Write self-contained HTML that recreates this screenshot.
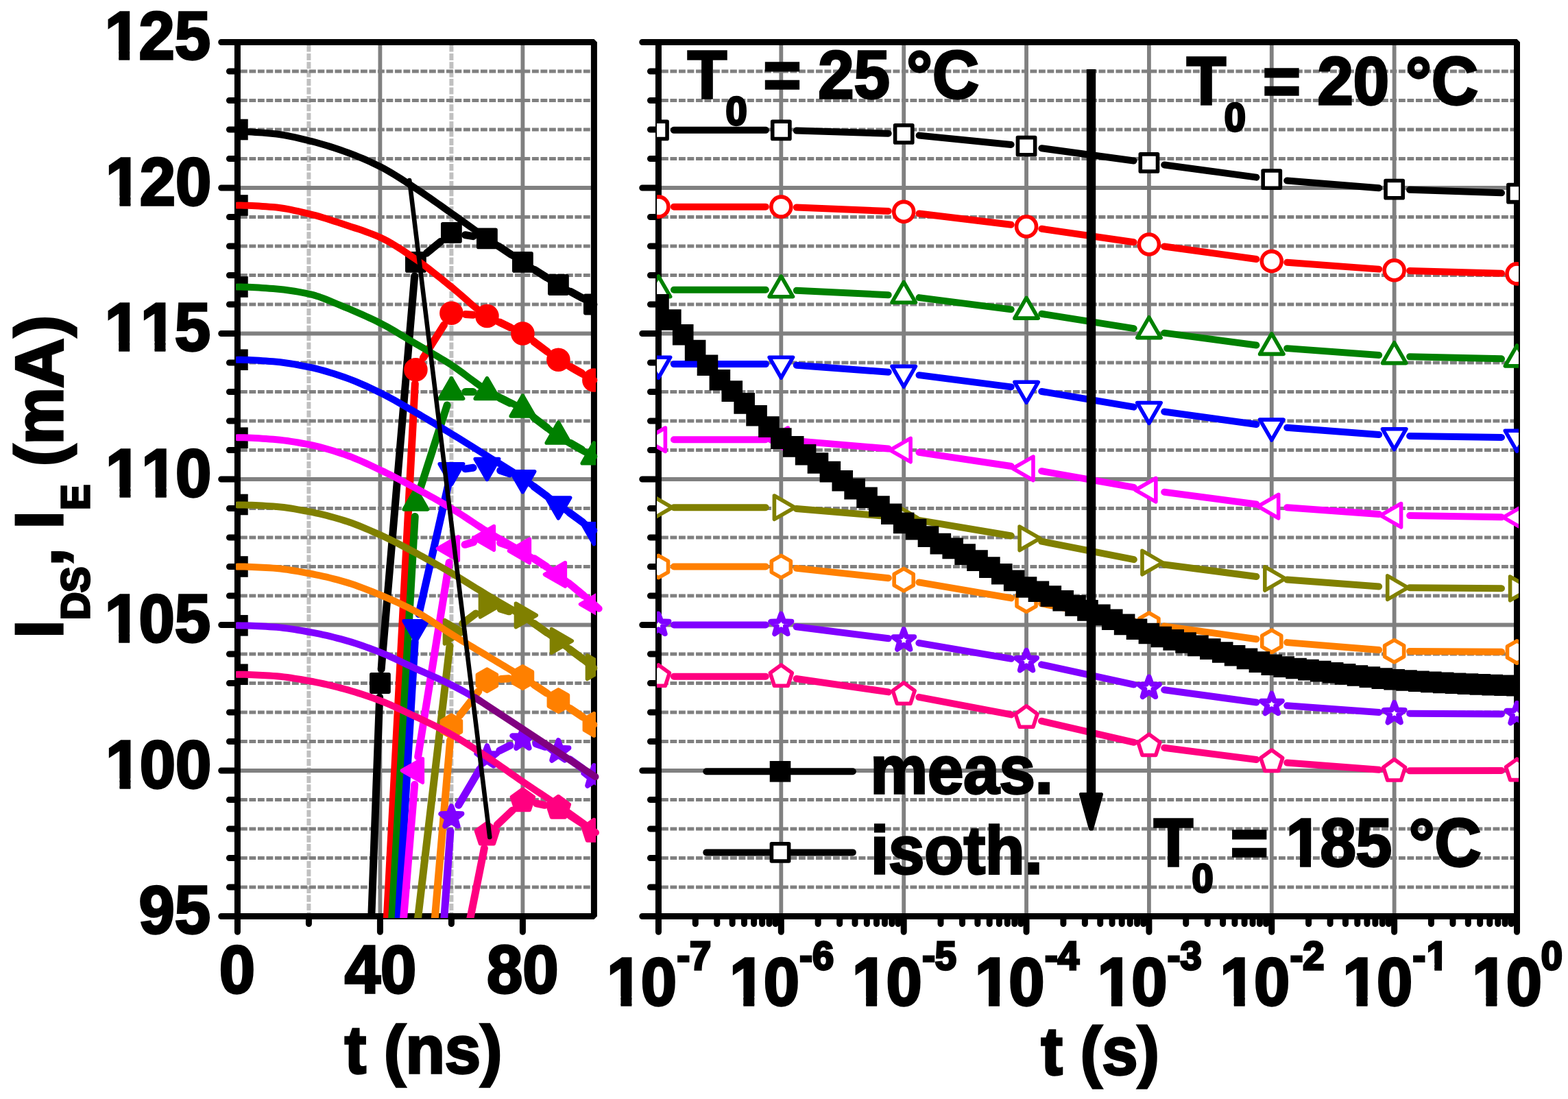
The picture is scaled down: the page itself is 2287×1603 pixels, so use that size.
<!DOCTYPE html>
<html lang="en"><head><meta charset="utf-8"><title>I_DS, I_E vs t</title>
<style>html,body{margin:0;padding:0;background:#fff}body{width:2287px;height:1603px;overflow:hidden}svg{display:block}</style>
</head><body>
<svg xmlns="http://www.w3.org/2000/svg" width="2287" height="1603" viewBox="0 0 2287 1603">
<rect width="2287" height="1603" fill="#fff"/>
<defs>
<clipPath id="cl"><rect x="341.9" y="59" width="527.1" height="1280"/></clipPath>
<clipPath id="cr"><rect x="957.95" y="59" width="1257.05" height="1280"/></clipPath>
<clipPath id="cs"><rect x="343.9" y="59" width="560" height="1280"/></clipPath>
</defs>
<g fill="none">
<path d="M450.4,65.5V1336.5" stroke="#c0c0c0" stroke-width="6" stroke-dasharray="10 2.4"/>
<path d="M658.4,65.5V1336.5" stroke="#c0c0c0" stroke-width="6" stroke-dasharray="10 2.4"/>
<path d="M350.9,1294H861.9M350.9,1251.5H861.9M350.9,1209H861.9M350.9,1166.5H861.9M350.9,1081.5H861.9M350.9,1039H861.9M350.9,996.5H861.9M350.9,954H861.9M350.9,869H861.9M350.9,826.5H861.9M350.9,784H861.9M350.9,741.5H861.9M350.9,656.5H861.9M350.9,614H861.9M350.9,571.5H861.9M350.9,529H861.9M350.9,444H861.9M350.9,401.5H861.9M350.9,359H861.9M350.9,316.5H861.9M350.9,231.5H861.9M350.9,189H861.9M350.9,146.5H861.9M350.9,104H861.9" stroke="#808080" stroke-width="5.2" stroke-dasharray="9.9 2.6"/>
<path d="M346.4,1124H866.4M346.4,911.5H866.4M346.4,699H866.4M346.4,486.5H866.4M346.4,274H866.4M554.4,61.5V1336.5M762.4,61.5V1336.5" stroke="#808080" stroke-width="5.8"/>
</g>
<path d="M346.4,61.5H866.4V1336.5H346.4Z" fill="none" stroke="#000" stroke-width="9" stroke-linejoin="bevel"/>
<path d="M346.4,1336.5h-23.7M346.4,1294h-12M346.4,1251.5h-12M346.4,1209h-12M346.4,1166.5h-12M346.4,1124h-23.7M346.4,1081.5h-12M346.4,1039h-12M346.4,996.5h-12M346.4,954h-12M346.4,911.5h-23.7M346.4,869h-12M346.4,826.5h-12M346.4,784h-12M346.4,741.5h-12M346.4,699h-23.7M346.4,656.5h-12M346.4,614h-12M346.4,571.5h-12M346.4,529h-12M346.4,486.5h-23.7M346.4,444h-12M346.4,401.5h-12M346.4,359h-12M346.4,316.5h-12M346.4,274h-23.7M346.4,231.5h-12M346.4,189h-12M346.4,146.5h-12M346.4,104h-12M346.4,61.5h-23.7M346.4,1336.5v22.7M554.4,1336.5v22.7M762.4,1336.5v22.7M450.4,1336.5v11M658.4,1336.5v11" fill="none" stroke="#000" stroke-width="9" stroke-linecap="round"/>
<g clip-path="url(#cl)">
<rect x="331.1" y="173.7" width="30.6" height="30.6" fill="#000"/>
<rect x="331.1" y="284.2" width="30.6" height="30.6" fill="#000"/>
<rect x="331.1" y="403.2" width="30.6" height="30.6" fill="#000"/>
<rect x="331.1" y="509.45" width="30.6" height="30.6" fill="#000"/>
<rect x="331.1" y="623.35" width="30.6" height="30.6" fill="#000"/>
<rect x="331.1" y="720.68" width="30.6" height="30.6" fill="#000"/>
<rect x="331.1" y="811.2" width="30.6" height="30.6" fill="#000"/>
<rect x="331.1" y="897.05" width="30.6" height="30.6" fill="#000"/>
<rect x="331.1" y="968.45" width="30.6" height="30.6" fill="#000"/>
<path d="M502.4,2399L553.64,1016.99M556.13,976.07L604.67,402.8M622.21,369.32L642.59,352.5M678.63,342.76L690.17,344.64M727.49,359.27L745.31,371.06M779.69,393.39L797.11,404.51M832.38,425.37L848.42,434.15" fill="none" stroke="#000000" stroke-width="11" stroke-linecap="round"/>
<path d="M541.8,983.9L567,983.9L567,1009.1L541.8,1009.1Z" fill="#000000" stroke="#000000" stroke-width="5.6" stroke-linejoin="round"/>
<path d="M593.8,369.77L619,369.77L619,394.97L593.8,394.97Z" fill="#000000" stroke="#000000" stroke-width="5.6" stroke-linejoin="round"/>
<path d="M645.8,326.85L671,326.85L671,352.05L645.8,352.05Z" fill="#000000" stroke="#000000" stroke-width="5.6" stroke-linejoin="round"/>
<path d="M697.8,335.35L723,335.35L723,360.55L697.8,360.55Z" fill="#000000" stroke="#000000" stroke-width="5.6" stroke-linejoin="round"/>
<path d="M749.8,369.77L775,369.77L775,394.97L749.8,394.97Z" fill="#000000" stroke="#000000" stroke-width="5.6" stroke-linejoin="round"/>
<path d="M801.8,402.92L827,402.92L827,428.12L801.8,428.12Z" fill="#000000" stroke="#000000" stroke-width="5.6" stroke-linejoin="round"/>
<path d="M853.8,431.4L879,431.4L879,456.6L853.8,456.6Z" fill="#000000" stroke="#000000" stroke-width="5.6" stroke-linejoin="round"/>
<path d="M554.4,1527.75L605.32,559.67M617.34,521.86L647.46,474.09M678.83,458.42L689.97,459.33M728.81,470.03L743.99,477.47M778.91,498.65L797.89,512.6M832.19,534.93L848.61,544.32" fill="none" stroke="#ff0000" stroke-width="11" stroke-linecap="round"/>
<path d="M591.9,539.2a14.5,14.5 0 1,0 29,0a14.5,14.5 0 1,0 -29,0Z" fill="#ff0000" stroke="#ff0000" stroke-width="5.6" stroke-linejoin="round"/>
<path d="M643.9,456.75a14.5,14.5 0 1,0 29,0a14.5,14.5 0 1,0 -29,0Z" fill="#ff0000" stroke="#ff0000" stroke-width="5.6" stroke-linejoin="round"/>
<path d="M695.9,461a14.5,14.5 0 1,0 29,0a14.5,14.5 0 1,0 -29,0Z" fill="#ff0000" stroke="#ff0000" stroke-width="5.6" stroke-linejoin="round"/>
<path d="M747.9,486.5a14.5,14.5 0 1,0 29,0a14.5,14.5 0 1,0 -29,0Z" fill="#ff0000" stroke="#ff0000" stroke-width="5.6" stroke-linejoin="round"/>
<path d="M799.9,524.75a14.5,14.5 0 1,0 29,0a14.5,14.5 0 1,0 -29,0Z" fill="#ff0000" stroke="#ff0000" stroke-width="5.6" stroke-linejoin="round"/>
<path d="M851.9,554.5a14.5,14.5 0 1,0 29,0a14.5,14.5 0 1,0 -29,0Z" fill="#ff0000" stroke="#ff0000" stroke-width="5.6" stroke-linejoin="round"/>
<path d="M554.4,1642.5L605.23,753.47M612.68,713.49L652.12,591.01M678.9,571.5L689.9,571.5M728.81,580.53L743.99,587.97M778.78,609.32L798.02,623.78M832.19,646.28L848.61,655.67" fill="none" stroke="#008000" stroke-width="11" stroke-linecap="round"/>
<path d="M606.4,713.14L623.6,742.93L589.2,742.93Z" fill="#008000" stroke="#008000" stroke-width="5.6" stroke-linejoin="round"/>
<path d="M658.4,551.64L675.6,581.43L641.2,581.43Z" fill="#008000" stroke="#008000" stroke-width="5.6" stroke-linejoin="round"/>
<path d="M710.4,551.64L727.6,581.43L693.2,581.43Z" fill="#008000" stroke="#008000" stroke-width="5.6" stroke-linejoin="round"/>
<path d="M762.4,577.14L779.6,606.93L745.2,606.93Z" fill="#008000" stroke="#008000" stroke-width="5.6" stroke-linejoin="round"/>
<path d="M814.4,616.24L831.6,646.03L797.2,646.03Z" fill="#008000" stroke="#008000" stroke-width="5.6" stroke-linejoin="round"/>
<path d="M866.4,645.99L883.6,675.78L849.2,675.78Z" fill="#008000" stroke="#008000" stroke-width="5.6" stroke-linejoin="round"/>
<path d="M554.4,1787L605.18,936.21M610.94,895.76L653.86,706.67M678.7,683.85L690.1,682.27M729.74,686.25L743.06,690.93M778.91,709.87L797.89,723.83M830.98,748.03L849.82,761.74" fill="none" stroke="#0000ff" stroke-width="11" stroke-linecap="round"/>
<path d="M606.4,935.61L623.6,905.82L589.2,905.82Z" fill="#0000ff" stroke="#0000ff" stroke-width="5.6" stroke-linejoin="round"/>
<path d="M658.4,706.54L675.6,676.74L641.2,676.74Z" fill="#0000ff" stroke="#0000ff" stroke-width="5.6" stroke-linejoin="round"/>
<path d="M710.4,699.31L727.6,669.52L693.2,669.52Z" fill="#0000ff" stroke="#0000ff" stroke-width="5.6" stroke-linejoin="round"/>
<path d="M762.4,717.59L779.6,687.79L745.2,687.79Z" fill="#0000ff" stroke="#0000ff" stroke-width="5.6" stroke-linejoin="round"/>
<path d="M814.4,755.84L831.6,726.04L797.2,726.04Z" fill="#0000ff" stroke="#0000ff" stroke-width="5.6" stroke-linejoin="round"/>
<path d="M866.4,793.66L883.6,763.87L849.2,763.87Z" fill="#0000ff" stroke="#0000ff" stroke-width="5.6" stroke-linejoin="round"/>
<path d="M554.4,1753L604.71,1144.43M609.65,1103.76L655.15,820.39M678.07,794.36L690.73,790.64M729.69,791.79L743.11,796.61M779.49,814.87L797.31,826.66M830.15,851.1L850.65,868.2" fill="none" stroke="#ff00ff" stroke-width="11" stroke-linecap="round"/>
<path d="M586.54,1124L616.33,1141.2L616.33,1106.8Z" fill="#ff00ff" stroke="#ff00ff" stroke-width="5.6" stroke-linejoin="round"/>
<path d="M638.54,800.15L668.33,817.35L668.33,782.95Z" fill="#ff00ff" stroke="#ff00ff" stroke-width="5.6" stroke-linejoin="round"/>
<path d="M690.54,784.85L720.33,802.05L720.33,767.65Z" fill="#ff00ff" stroke="#ff00ff" stroke-width="5.6" stroke-linejoin="round"/>
<path d="M742.54,803.55L772.33,820.75L772.33,786.35Z" fill="#ff00ff" stroke="#ff00ff" stroke-width="5.6" stroke-linejoin="round"/>
<path d="M794.54,837.97L824.33,855.17L824.33,820.77Z" fill="#ff00ff" stroke="#ff00ff" stroke-width="5.6" stroke-linejoin="round"/>
<path d="M846.54,881.33L876.33,898.53L876.33,864.13Z" fill="#ff00ff" stroke="#ff00ff" stroke-width="5.6" stroke-linejoin="round"/>
<path d="M606.4,1366.25L656.02,942.06M674.78,909.38L694.02,894.92M730.11,888.24L742.69,891.84M779.04,909.44L797.76,922.91M830.91,947.02L849.89,960.98" fill="none" stroke="#808000" stroke-width="11" stroke-linecap="round"/>
<path d="M678.26,921.7L648.47,938.9L648.47,904.5Z" fill="#808000" stroke="#808000" stroke-width="5.6" stroke-linejoin="round"/>
<path d="M730.26,882.6L700.47,899.8L700.47,865.4Z" fill="#808000" stroke="#808000" stroke-width="5.6" stroke-linejoin="round"/>
<path d="M782.26,897.48L752.47,914.68L752.47,880.28Z" fill="#808000" stroke="#808000" stroke-width="5.6" stroke-linejoin="round"/>
<path d="M834.26,934.87L804.47,952.07L804.47,917.67Z" fill="#808000" stroke="#808000" stroke-width="5.6" stroke-linejoin="round"/>
<path d="M886.26,973.13L856.47,990.33L856.47,955.93Z" fill="#808000" stroke="#808000" stroke-width="5.6" stroke-linejoin="round"/>
<path d="M606.4,1663.75L656.64,1079.82M670.95,1043.19L697.85,1008.46M730.83,990.58L741.97,989.67M779.56,999.22L797.24,1010.78M831.43,1033.41L849.37,1045.44" fill="none" stroke="#ff8000" stroke-width="11" stroke-linecap="round"/>
<path d="M658.4,1043.2L672.43,1051.3L672.43,1067.5L658.4,1075.6L644.37,1067.5L644.37,1051.3Z" fill="#ff8000" stroke="#ff8000" stroke-width="5.6" stroke-linejoin="round"/>
<path d="M710.4,976.05L724.43,984.15L724.43,1000.35L710.4,1008.45L696.37,1000.35L696.37,984.15Z" fill="#ff8000" stroke="#ff8000" stroke-width="5.6" stroke-linejoin="round"/>
<path d="M762.4,971.8L776.43,979.9L776.43,996.1L762.4,1004.2L748.37,996.1L748.37,979.9Z" fill="#ff8000" stroke="#ff8000" stroke-width="5.6" stroke-linejoin="round"/>
<path d="M814.4,1005.8L828.43,1013.9L828.43,1030.1L814.4,1038.2L800.37,1030.1L800.37,1013.9Z" fill="#ff8000" stroke="#ff8000" stroke-width="5.6" stroke-linejoin="round"/>
<path d="M866.4,1040.65L880.43,1048.75L880.43,1064.95L866.4,1073.05L852.37,1064.95L852.37,1048.75Z" fill="#ff8000" stroke="#ff8000" stroke-width="5.6" stroke-linejoin="round"/>
<path d="M606.4,1914.5L656.93,1212.45M668.83,1174.35L699.97,1121.67M728.75,1094.88L744.05,1087.25M781.79,1084.76L795.01,1089.29M831.11,1107.83L849.69,1121.05" fill="none" stroke="#8000ff" stroke-width="11" stroke-linecap="round"/>
<path d="M658.4,1176L662.28,1186.66L673.62,1187.06L664.68,1194.04L667.8,1204.94L658.4,1198.6L649,1204.94L652.12,1194.04L643.18,1187.06L654.52,1186.66Z" fill="#8000ff" stroke="#8000ff" stroke-width="7.6" stroke-linejoin="round"/>
<path d="M710.4,1088.03L714.28,1098.69L725.62,1099.08L716.68,1106.06L719.8,1116.97L710.4,1110.62L701,1116.97L704.12,1106.06L695.18,1099.08L706.52,1098.69Z" fill="#8000ff" stroke="#8000ff" stroke-width="7.6" stroke-linejoin="round"/>
<path d="M762.4,1062.1L766.28,1072.76L777.62,1073.16L768.68,1080.14L771.8,1091.04L762.4,1084.7L753,1091.04L756.12,1080.14L747.18,1073.16L758.52,1072.76Z" fill="#8000ff" stroke="#8000ff" stroke-width="7.6" stroke-linejoin="round"/>
<path d="M814.4,1079.95L818.28,1090.61L829.62,1091.01L820.68,1097.99L823.8,1108.89L814.4,1102.55L805,1108.89L808.12,1097.99L799.18,1091.01L810.52,1090.61Z" fill="#8000ff" stroke="#8000ff" stroke-width="7.6" stroke-linejoin="round"/>
<path d="M866.4,1116.92L870.28,1127.59L881.62,1127.98L872.68,1134.96L875.8,1145.87L866.4,1139.52L857,1145.87L860.12,1134.96L851.18,1127.98L862.52,1127.59Z" fill="#8000ff" stroke="#8000ff" stroke-width="7.6" stroke-linejoin="round"/>
<path d="M658.4,1476.75L706.37,1237.18M725.28,1202.97L747.52,1181.88M782.49,1171.88L794.31,1174.3M831.56,1189.62L849.24,1201.18" fill="none" stroke="#ff0080" stroke-width="11" stroke-linecap="round"/>
<path d="M710.4,1200.27L726.38,1211.88L720.27,1230.67L700.53,1230.67L694.42,1211.88Z" fill="#ff0080" stroke="#ff0080" stroke-width="5.6" stroke-linejoin="round"/>
<path d="M762.4,1150.98L778.38,1162.58L772.27,1181.37L752.53,1181.37L746.42,1162.58Z" fill="#ff0080" stroke="#ff0080" stroke-width="5.6" stroke-linejoin="round"/>
<path d="M814.4,1161.6L830.38,1173.21L824.27,1191.99L804.53,1191.99L798.42,1173.21Z" fill="#ff0080" stroke="#ff0080" stroke-width="5.6" stroke-linejoin="round"/>
<path d="M866.4,1195.6L882.38,1207.21L876.27,1225.99L856.53,1225.99L850.42,1207.21Z" fill="#ff0080" stroke="#ff0080" stroke-width="5.6" stroke-linejoin="round"/>
</g>
<g clip-path="url(#cs)" fill="none" stroke-width="10" stroke-linecap="round" stroke-linejoin="round">
<path d="M346.4,191.97L351.6,192.02L356.8,192.14L362,192.33L367.2,192.58L372.4,192.89L377.6,193.24L382.8,193.63L388,194.05L393.2,194.49L398.4,194.95L403.6,195.5L408.8,196.2L414,197.05L419.2,198.02L424.4,199.08L429.6,200.22L434.8,201.42L440,202.65L445.2,203.9L450.4,205.15L455.6,206.43L460.8,207.78L466,209.21L471.2,210.7L476.4,212.26L481.6,213.88L486.8,215.56L492,217.28L497.2,219.06L502.4,220.88L507.6,222.75L512.8,224.69L518,226.71L523.2,228.79L528.4,230.96L533.6,233.2L538.8,235.52L544,237.92L549.2,240.41L554.4,242.97L559.6,245.68L564.8,248.55L570,251.56L575.2,254.7L580.4,257.94L585.6,261.26L590.8,264.63L596,268.04L601.2,271.45L606.4,274.85L611.6,278.28L616.8,281.77L622,285.33L627.2,288.93L632.4,292.58L637.6,296.25L642.8,299.93L648,303.62L653.2,307.31L658.4,310.98L663.6,314.65L668.8,318.36L674,322.09L679.2,325.83L684.4,329.57L689.6,333.31L694.8,337.02L700,340.71L705.2,344.36L710.4,347.95L715.6,351.5L720.8,355.01L726,358.5L731.2,361.96L736.4,365.4L741.6,368.82L746.8,372.22L752,375.61L757.2,379L762.4,382.37L767.6,385.76L772.8,389.17L778,392.57L783.2,395.97L788.4,399.34L793.6,402.69L798.8,405.99L804,409.24L809.2,412.42L814.4,415.52L819.6,418.57L824.8,421.57L830,424.53L835.2,427.45L840.4,430.32L845.6,433.15L850.8,435.94L856,438.67L861.2,441.36L866.4,444" stroke="#000000"/>
<path d="M346.4,299.5L351.6,299.53L356.8,299.64L362,299.8L367.2,300.01L372.4,300.27L377.6,300.57L382.8,300.9L388,301.27L393.2,301.65L398.4,302.05L403.6,302.54L408.8,303.2L414,304L419.2,304.92L424.4,305.94L429.6,307.04L434.8,308.2L440,309.39L445.2,310.61L450.4,311.83L455.6,313.09L460.8,314.46L466,315.92L471.2,317.46L476.4,319.06L481.6,320.71L486.8,322.4L492,324.11L497.2,325.83L502.4,327.55L507.6,329.25L512.8,330.93L518,332.62L523.2,334.33L528.4,336.09L533.6,337.91L538.8,339.82L544,341.83L549.2,343.97L554.4,346.25L559.6,348.73L564.8,351.44L570,354.36L575.2,357.44L580.4,360.68L585.6,364.04L590.8,367.49L596,371L601.2,374.56L606.4,378.13L611.6,381.77L616.8,385.56L622,389.47L627.2,393.49L632.4,397.59L637.6,401.74L642.8,405.94L648,410.14L653.2,414.34L658.4,418.5L663.6,422.76L668.8,427.2L674,431.76L679.2,436.36L684.4,440.94L689.6,445.43L694.8,449.74L700,453.83L705.2,457.6L710.4,461L715.6,464.02L720.8,466.75L726,469.27L731.2,471.63L736.4,473.91L741.6,476.18L746.8,478.5L752,480.95L757.2,483.59L762.4,486.5L767.6,489.75L772.8,493.32L778,497.15L783.2,501.16L788.4,505.27L793.6,509.4L798.8,513.5L804,517.47L809.2,521.24L814.4,524.75L819.6,528.06L824.8,531.31L830,534.49L835.2,537.59L840.4,540.62L845.6,543.57L850.8,546.43L856,549.21L861.2,551.9L866.4,554.5" stroke="#ff0000"/>
<path d="M346.4,418.5L351.6,418.54L356.8,418.64L362,418.81L367.2,419.03L372.4,419.3L377.6,419.6L382.8,419.94L388,420.3L393.2,420.67L398.4,421.05L403.6,421.48L408.8,421.99L414,422.58L419.2,423.24L424.4,423.99L429.6,424.8L434.8,425.68L440,426.63L445.2,427.64L450.4,428.7L455.6,429.93L460.8,431.41L466,433.11L471.2,434.99L476.4,437L481.6,439.11L486.8,441.29L492,443.49L497.2,445.68L502.4,447.83L507.6,449.95L512.8,452.11L518,454.31L523.2,456.55L528.4,458.85L533.6,461.2L538.8,463.6L544,466.07L549.2,468.6L554.4,471.2L559.6,473.9L564.8,476.73L570,479.66L575.2,482.68L580.4,485.76L585.6,488.88L590.8,492.02L596,495.16L601.2,498.29L606.4,501.37L611.6,504.42L616.8,507.44L622,510.45L627.2,513.46L632.4,516.49L637.6,519.56L642.8,522.67L648,525.83L653.2,529.07L658.4,532.4L663.6,535.88L668.8,539.55L674,543.35L679.2,547.24L684.4,551.15L689.6,555.05L694.8,558.87L700,562.56L705.2,566.08L710.4,569.38L715.6,572.42L720.8,575.26L726,577.95L731.2,580.54L736.4,583.09L741.6,585.65L746.8,588.27L752,590.99L757.2,593.89L762.4,597L767.6,600.41L772.8,604.13L778,608.08L783.2,612.18L788.4,616.37L793.6,620.58L798.8,624.73L804,628.74L809.2,632.56L814.4,636.1L819.6,639.44L824.8,642.72L830,645.91L835.2,649.03L840.4,652.06L845.6,655.01L850.8,657.87L856,660.63L861.2,663.29L866.4,665.85" stroke="#008000"/>
<path d="M346.4,524.75L351.6,524.79L356.8,524.89L362,525.06L367.2,525.28L372.4,525.54L377.6,525.84L382.8,526.18L388,526.54L393.2,526.91L398.4,527.3L403.6,527.75L408.8,528.3L414,528.95L419.2,529.7L424.4,530.51L429.6,531.4L434.8,532.34L440,533.32L445.2,534.34L450.4,535.38L455.6,536.48L460.8,537.69L466,539L471.2,540.4L476.4,541.88L481.6,543.44L486.8,545.06L492,546.74L497.2,548.48L502.4,550.25L507.6,552.1L512.8,554.08L518,556.15L523.2,558.33L528.4,560.59L533.6,562.92L538.8,565.32L544,567.77L549.2,570.25L554.4,572.77L559.6,575.37L564.8,578.06L570,580.85L575.2,583.72L580.4,586.65L585.6,589.62L590.8,592.63L596,595.65L601.2,598.67L606.4,601.67L611.6,604.68L616.8,607.72L622,610.78L627.2,613.87L632.4,616.97L637.6,620.09L642.8,623.23L648,626.38L653.2,629.54L658.4,632.7L663.6,635.88L668.8,639.07L674,642.28L679.2,645.51L684.4,648.74L689.6,651.99L694.8,655.24L700,658.49L705.2,661.75L710.4,665L715.6,668.23L720.8,671.44L726,674.63L731.2,677.81L736.4,681.02L741.6,684.25L746.8,687.52L752,690.85L757.2,694.24L762.4,697.73L767.6,701.31L772.8,705L778,708.78L783.2,712.62L788.4,716.5L793.6,720.42L798.8,724.34L804,728.26L809.2,732.14L814.4,735.98L819.6,739.78L824.8,743.57L830,747.37L835.2,751.16L840.4,754.94L845.6,758.72L850.8,762.5L856,766.27L861.2,770.04L866.4,773.8" stroke="#0000ff"/>
<path d="M346.4,638.22L351.6,638.26L356.8,638.37L362,638.53L367.2,638.76L372.4,639.02L377.6,639.33L382.8,639.66L388,640.02L393.2,640.39L398.4,640.77L403.6,641.21L408.8,641.74L414,642.36L419.2,643.06L424.4,643.83L429.6,644.66L434.8,645.54L440,646.47L445.2,647.43L450.4,648.43L455.6,649.48L460.8,650.64L466,651.91L471.2,653.26L476.4,654.7L481.6,656.21L486.8,657.8L492,659.44L497.2,661.13L502.4,662.88L507.6,664.71L512.8,666.69L518,668.79L523.2,670.99L528.4,673.28L533.6,675.64L538.8,678.05L544,680.49L549.2,682.95L554.4,685.4L559.6,687.88L564.8,690.42L570,693.02L575.2,695.66L580.4,698.35L585.6,701.07L590.8,703.82L596,706.59L601.2,709.38L606.4,712.18L611.6,714.98L616.8,717.81L622,720.65L627.2,723.52L632.4,726.42L637.6,729.36L642.8,732.33L648,735.34L653.2,738.4L658.4,741.5L663.6,744.69L668.8,747.98L674,751.35L679.2,754.78L684.4,758.23L689.6,761.69L694.8,765.12L700,768.52L705.2,771.84L710.4,775.08L715.6,778.21L720.8,781.26L726,784.25L731.2,787.2L736.4,790.14L741.6,793.08L746.8,796.03L752,799.04L757.2,802.1L762.4,805.25L767.6,808.45L772.8,811.68L778,814.92L783.2,818.21L788.4,821.55L793.6,824.94L798.8,828.39L804,831.92L809.2,835.54L814.4,839.25L819.6,843.06L824.8,846.96L830,850.96L835.2,855.05L840.4,859.22L845.6,863.48L850.8,867.83L856,872.25L861.2,876.75L866.4,881.33L873.68,887.73" stroke="#ff00ff"/>
<path d="M346.4,736.4L351.6,736.43L356.8,736.51L362,736.65L367.2,736.83L372.4,737.05L377.6,737.3L382.8,737.58L388,737.88L393.2,738.2L398.4,738.53L403.6,738.92L408.8,739.44L414,740.06L419.2,740.77L424.4,741.56L429.6,742.41L434.8,743.31L440,744.25L445.2,745.21L450.4,746.17L455.6,747.18L460.8,748.27L466,749.43L471.2,750.66L476.4,751.96L481.6,753.32L486.8,754.74L492,756.22L497.2,757.76L502.4,759.35L507.6,761.03L512.8,762.84L518,764.76L523.2,766.77L528.4,768.87L533.6,771.04L538.8,773.27L544,775.55L549.2,777.85L554.4,780.17L559.6,782.55L564.8,785L570,787.54L575.2,790.14L580.4,792.79L585.6,795.49L590.8,798.22L596,800.98L601.2,803.75L606.4,806.53L611.6,809.32L616.8,812.15L622,815.02L627.2,817.91L632.4,820.84L637.6,823.79L642.8,826.77L648,829.78L653.2,832.8L658.4,835.85L663.6,838.93L668.8,842.07L674,845.24L679.2,848.45L684.4,851.68L689.6,854.91L694.8,858.14L700,861.36L705.2,864.56L710.4,867.72L715.6,870.84L720.8,873.91L726,876.95L731.2,879.97L736.4,883L741.6,886.04L746.8,889.12L752,892.26L757.2,895.46L762.4,898.75L767.6,902.13L772.8,905.57L778,909.08L783.2,912.65L788.4,916.27L793.6,919.93L798.8,923.63L804,927.35L809.2,931.11L814.4,934.87L819.6,938.67L824.8,942.5L830,946.36L835.2,950.27L840.4,954.2L845.6,958.17L850.8,962.18L856,966.22L861.2,970.29L866.4,974.4" stroke="#808000"/>
<path d="M346.4,826.5L351.6,826.53L356.8,826.61L362,826.75L367.2,826.93L372.4,827.15L377.6,827.4L382.8,827.68L388,827.98L393.2,828.3L398.4,828.62L403.6,829.02L408.8,829.54L414,830.17L419.2,830.89L424.4,831.69L429.6,832.54L434.8,833.44L440,834.38L445.2,835.33L450.4,836.28L455.6,837.25L460.8,838.29L466,839.38L471.2,840.53L476.4,841.74L481.6,843.01L486.8,844.33L492,845.7L497.2,847.13L502.4,848.6L507.6,850.16L512.8,851.82L518,853.59L523.2,855.44L528.4,857.36L533.6,859.35L538.8,861.4L544,863.48L549.2,865.59L554.4,867.72L559.6,869.88L564.8,872.08L570,874.34L575.2,876.64L580.4,879.01L585.6,881.44L590.8,883.95L596,886.53L601.2,889.2L606.4,891.95L611.6,894.86L616.8,897.95L622,901.19L627.2,904.55L632.4,907.99L637.6,911.47L642.8,914.96L648,918.42L653.2,921.81L658.4,925.1L663.6,928.31L668.8,931.5L674,934.66L679.2,937.8L684.4,940.93L689.6,944.05L694.8,947.17L700,950.29L705.2,953.41L710.4,956.55L715.6,959.68L720.8,962.8L726,965.91L731.2,969.01L736.4,972.12L741.6,975.24L746.8,978.38L752,981.55L757.2,984.76L762.4,988L767.6,991.29L772.8,994.62L778,997.98L783.2,1001.37L788.4,1004.78L793.6,1008.21L798.8,1011.65L804,1015.1L809.2,1018.55L814.4,1022L819.6,1025.45L824.8,1028.9L830,1032.36L835.2,1035.84L840.4,1039.32L845.6,1042.81L850.8,1046.31L856,1049.81L861.2,1053.33L866.4,1056.85" stroke="#ff8000"/>
<path d="M346.4,912.35L351.6,912.38L356.8,912.47L362,912.6L367.2,912.78L372.4,913L377.6,913.25L382.8,913.53L388,913.83L393.2,914.15L398.4,914.47L403.6,914.86L408.8,915.36L414,915.95L419.2,916.63L424.4,917.37L429.6,918.18L434.8,919.02L440,919.9L445.2,920.8L450.4,921.7L455.6,922.63L460.8,923.63L466,924.69L471.2,925.81L476.4,926.99L481.6,928.22L486.8,929.5L492,930.82L497.2,932.19L502.4,933.6L507.6,935.07L512.8,936.63L518,938.27L523.2,939.98L528.4,941.76L533.6,943.6L538.8,945.5L544,947.44L549.2,949.43L554.4,951.45L559.6,953.55L564.8,955.77L570,958.09L575.2,960.48L580.4,962.92L585.6,965.4L590.8,967.9L596,970.38L601.2,972.84L606.4,975.25L611.6,977.61L616.8,979.93L622,982.23L627.2,984.53L632.4,986.84L637.6,989.17L642.8,991.55L648,993.97L653.2,996.47L658.4,999.05L663.6,1001.72L668.8,1004.46L674,1007.26L679.2,1010.13L684.4,1013.06L689.6,1016.04L694.8,1019.07L700,1022.14" stroke="#8000ff"/>
<path d="M346.4,983.75L351.6,983.78L356.8,983.87L362,984L367.2,984.18L372.4,984.4L377.6,984.65L382.8,984.93L388,985.23L393.2,985.55L398.4,985.88L403.6,986.26L408.8,986.76L414,987.35L419.2,988.03L424.4,988.77L429.6,989.58L434.8,990.42L440,991.3L445.2,992.2L450.4,993.1L455.6,994.04L460.8,995.04L466,996.11L471.2,997.24L476.4,998.42L481.6,999.66L486.8,1000.94L492,1002.26L497.2,1003.61L502.4,1005L507.6,1006.43L512.8,1007.93L518,1009.49L523.2,1011.11L528.4,1012.79L533.6,1014.53L538.8,1016.32L544,1018.16L549.2,1020.06L554.4,1022L559.6,1024.03L564.8,1026.16L570,1028.39L575.2,1030.7L580.4,1033.08L585.6,1035.5L590.8,1037.95L596,1040.43L601.2,1042.91L606.4,1045.38L611.6,1047.83L616.8,1050.29L622,1052.77L627.2,1055.26L632.4,1057.79L637.6,1060.37L642.8,1063L648,1065.69L653.2,1068.45L658.4,1071.3L663.6,1074.25L668.8,1077.31L674,1080.46L679.2,1083.69L684.4,1086.99L689.6,1090.34L694.8,1093.73L700,1097.15L705.2,1100.59L710.4,1104.03L715.6,1107.5L720.8,1111.04L726,1114.64L731.2,1118.28L736.4,1121.95L741.6,1125.62L746.8,1129.3L752,1132.95L757.2,1136.57L762.4,1140.15L767.6,1143.67L772.8,1147.16L778,1150.62L783.2,1154.06L788.4,1157.5L793.6,1160.94L798.8,1164.4L804,1167.89L809.2,1171.42L814.4,1175L819.6,1178.62L824.8,1182.27L830,1185.95L835.2,1189.65L840.4,1193.38L845.6,1197.13L850.8,1200.91L856,1204.71L861.2,1208.54L866.4,1212.4L869,1214.33" stroke="#ff0080"/>
<path d="M692.5,1017.2L868.5,1133" stroke="#800080"/>
</g>
<path d="M597.2,263L714.3,1221" fill="none" stroke="#000" stroke-width="6.6" stroke-linecap="round"/>
<g fill="none">
<path d="M964.95,1294H2208M964.95,1251.5H2208M964.95,1209H2208M964.95,1166.5H2208M964.95,1081.5H2208M964.95,1039H2208M964.95,996.5H2208M964.95,954H2208M964.95,869H2208M964.95,826.5H2208M964.95,784H2208M964.95,741.5H2208M964.95,656.5H2208M964.95,614H2208M964.95,571.5H2208M964.95,529H2208M964.95,444H2208M964.95,401.5H2208M964.95,359H2208M964.95,316.5H2208M964.95,231.5H2208M964.95,189H2208M964.95,146.5H2208M964.95,104H2208" stroke="#808080" stroke-width="5.2" stroke-dasharray="9.9 2.6"/>
<path d="M960.45,1124H2212.5M960.45,911.5H2212.5M960.45,699H2212.5M960.45,486.5H2212.5M960.45,274H2212.5M1139.31,61.5V1336.5M1318.18,61.5V1336.5M1497.04,61.5V1336.5M1675.91,61.5V1336.5M1854.77,61.5V1336.5M2033.64,61.5V1336.5" stroke="#808080" stroke-width="5.8"/>
</g>
<path d="M960.45,61.5H2212.5V1336.5H960.45Z" fill="none" stroke="#000" stroke-width="9" stroke-linejoin="bevel"/>
<path d="M960.45,1336.5h-23.7M960.45,1294h-12M960.45,1251.5h-12M960.45,1209h-12M960.45,1166.5h-12M960.45,1124h-23.7M960.45,1081.5h-12M960.45,1039h-12M960.45,996.5h-12M960.45,954h-12M960.45,911.5h-23.7M960.45,869h-12M960.45,826.5h-12M960.45,784h-12M960.45,741.5h-12M960.45,699h-23.7M960.45,656.5h-12M960.45,614h-12M960.45,571.5h-12M960.45,529h-12M960.45,486.5h-23.7M960.45,444h-12M960.45,401.5h-12M960.45,359h-12M960.45,316.5h-12M960.45,274h-23.7M960.45,231.5h-12M960.45,189h-12M960.45,146.5h-12M960.45,104h-12M960.45,61.5h-23.7M960.45,1336.5v22.7M1139.31,1336.5v22.7M1318.18,1336.5v22.7M1497.04,1336.5v22.7M1675.91,1336.5v22.7M1854.77,1336.5v22.7M2033.64,1336.5v22.7M2212.5,1336.5v22.7M1014.29,1336.5v11M1045.79,1336.5v11M1068.14,1336.5v11M1085.47,1336.5v11M1099.63,1336.5v11M1111.61,1336.5v11M1121.98,1336.5v11M1131.13,1336.5v11M1193.16,1336.5v11M1224.65,1336.5v11M1247,1336.5v11M1264.34,1336.5v11M1278.5,1336.5v11M1290.47,1336.5v11M1300.84,1336.5v11M1309.99,1336.5v11M1372.02,1336.5v11M1403.52,1336.5v11M1425.87,1336.5v11M1443.2,1336.5v11M1457.36,1336.5v11M1469.34,1336.5v11M1479.71,1336.5v11M1488.86,1336.5v11M1550.89,1336.5v11M1582.38,1336.5v11M1604.73,1336.5v11M1622.06,1336.5v11M1636.23,1336.5v11M1648.2,1336.5v11M1658.57,1336.5v11M1667.72,1336.5v11M1729.75,1336.5v11M1761.25,1336.5v11M1783.59,1336.5v11M1800.93,1336.5v11M1815.09,1336.5v11M1827.07,1336.5v11M1837.44,1336.5v11M1846.59,1336.5v11M1908.61,1336.5v11M1940.11,1336.5v11M1962.46,1336.5v11M1979.79,1336.5v11M1993.95,1336.5v11M2005.93,1336.5v11M2016.3,1336.5v11M2025.45,1336.5v11M2087.48,1336.5v11M2118.98,1336.5v11M2141.32,1336.5v11M2158.66,1336.5v11M2172.82,1336.5v11M2184.79,1336.5v11M2195.17,1336.5v11M2204.32,1336.5v11" fill="none" stroke="#000" stroke-width="9" stroke-linecap="round"/>
<g clip-path="url(#cr)">
<path d="M982.95,189.85L1116.81,189.85M1161.8,190.54L1295.69,194.68M1340.57,197.61L1474.65,210.99M1519.34,216.24L1653.61,234.43M1698.2,240.47L1832.47,258.66M1877.2,263.49L2011.21,274.31M2056.12,276.87L2190.01,281.33" fill="none" stroke="#000000" stroke-width="10" stroke-linecap="round"/>
<path d="M947.85,177.25L973.05,177.25L973.05,202.45L947.85,202.45Z" fill="#fff" stroke="#000000" stroke-width="5.6" stroke-linejoin="round"/>
<path d="M1126.71,177.25L1151.91,177.25L1151.91,202.45L1126.71,202.45Z" fill="#fff" stroke="#000000" stroke-width="5.6" stroke-linejoin="round"/>
<path d="M1305.58,182.78L1330.78,182.78L1330.78,207.98L1305.58,207.98Z" fill="#fff" stroke="#000000" stroke-width="5.6" stroke-linejoin="round"/>
<path d="M1484.44,200.62L1509.64,200.62L1509.64,225.82L1484.44,225.82Z" fill="#fff" stroke="#000000" stroke-width="5.6" stroke-linejoin="round"/>
<path d="M1663.31,224.85L1688.51,224.85L1688.51,250.05L1663.31,250.05Z" fill="#fff" stroke="#000000" stroke-width="5.6" stroke-linejoin="round"/>
<path d="M1842.17,249.07L1867.37,249.07L1867.37,274.27L1842.17,274.27Z" fill="#fff" stroke="#000000" stroke-width="5.6" stroke-linejoin="round"/>
<path d="M2021.04,263.52L2046.24,263.52L2046.24,288.72L2021.04,288.72Z" fill="#fff" stroke="#000000" stroke-width="5.6" stroke-linejoin="round"/>
<path d="M2199.9,269.47L2225.1,269.47L2225.1,294.67L2199.9,294.67Z" fill="#fff" stroke="#000000" stroke-width="5.6" stroke-linejoin="round"/>
<path d="M982.95,301.63L1116.81,301.63M1161.8,302.53L1295.7,307.94M1340.52,311.56L1474.71,327.82M1519.31,333.75L1653.64,353.22M1698.2,359.52L1832.48,378.03M1877.21,382.75L2011.2,392.62M2056.13,394.92L2190.01,398.73" fill="none" stroke="#ff0000" stroke-width="10" stroke-linecap="round"/>
<path d="M945.95,301.63a14.5,14.5 0 1,0 29,0a14.5,14.5 0 1,0 -29,0Z" fill="#fff" stroke="#ff0000" stroke-width="5.6" stroke-linejoin="round"/>
<path d="M1124.81,301.63a14.5,14.5 0 1,0 29,0a14.5,14.5 0 1,0 -29,0Z" fill="#fff" stroke="#ff0000" stroke-width="5.6" stroke-linejoin="round"/>
<path d="M1303.68,308.85a14.5,14.5 0 1,0 29,0a14.5,14.5 0 1,0 -29,0Z" fill="#fff" stroke="#ff0000" stroke-width="5.6" stroke-linejoin="round"/>
<path d="M1482.54,330.52a14.5,14.5 0 1,0 29,0a14.5,14.5 0 1,0 -29,0Z" fill="#fff" stroke="#ff0000" stroke-width="5.6" stroke-linejoin="round"/>
<path d="M1661.41,356.45a14.5,14.5 0 1,0 29,0a14.5,14.5 0 1,0 -29,0Z" fill="#fff" stroke="#ff0000" stroke-width="5.6" stroke-linejoin="round"/>
<path d="M1840.27,381.1a14.5,14.5 0 1,0 29,0a14.5,14.5 0 1,0 -29,0Z" fill="#fff" stroke="#ff0000" stroke-width="5.6" stroke-linejoin="round"/>
<path d="M2019.14,394.27a14.5,14.5 0 1,0 29,0a14.5,14.5 0 1,0 -29,0Z" fill="#fff" stroke="#ff0000" stroke-width="5.6" stroke-linejoin="round"/>
<path d="M2198,399.38a14.5,14.5 0 1,0 29,0a14.5,14.5 0 1,0 -29,0Z" fill="#fff" stroke="#ff0000" stroke-width="5.6" stroke-linejoin="round"/>
<path d="M982.95,422.75L1116.81,422.75M1161.79,423.82L1295.7,430.18M1340.5,434.11L1474.73,451.34M1519.26,457.74L1653.69,479.14M1698.21,485.64L1832.47,503.51M1877.21,508.13L2011.2,518M2056.13,520.18L2190.01,523.37" fill="none" stroke="#008000" stroke-width="10" stroke-linecap="round"/>
<path d="M960.45,402.89L977.65,432.68L943.25,432.68Z" fill="#fff" stroke="#008000" stroke-width="5.6" stroke-linejoin="round"/>
<path d="M1139.31,402.89L1156.51,432.68L1122.11,432.68Z" fill="#fff" stroke="#008000" stroke-width="5.6" stroke-linejoin="round"/>
<path d="M1318.18,411.39L1335.38,441.18L1300.98,441.18Z" fill="#fff" stroke="#008000" stroke-width="5.6" stroke-linejoin="round"/>
<path d="M1497.04,434.34L1514.24,464.13L1479.84,464.13Z" fill="#fff" stroke="#008000" stroke-width="5.6" stroke-linejoin="round"/>
<path d="M1675.91,462.81L1693.11,492.61L1658.71,492.61Z" fill="#fff" stroke="#008000" stroke-width="5.6" stroke-linejoin="round"/>
<path d="M1854.77,486.61L1871.97,516.41L1837.57,516.41Z" fill="#fff" stroke="#008000" stroke-width="5.6" stroke-linejoin="round"/>
<path d="M2033.64,499.79L2050.84,529.58L2016.44,529.58Z" fill="#fff" stroke="#008000" stroke-width="5.6" stroke-linejoin="round"/>
<path d="M2212.5,504.04L2229.7,533.83L2195.3,533.83Z" fill="#fff" stroke="#008000" stroke-width="5.6" stroke-linejoin="round"/>
<path d="M982.95,531.12L1116.81,531.12M1161.75,532.78L1295.74,542.65M1340.5,547.16L1474.73,564.39M1519.23,570.99L1653.72,593.68M1698.2,600.5L1832.48,619M1877.21,623.78L2011.2,633.97M2056.13,636L2190,637.9" fill="none" stroke="#0000ff" stroke-width="10" stroke-linecap="round"/>
<path d="M960.45,550.99L977.65,521.19L943.25,521.19Z" fill="#fff" stroke="#0000ff" stroke-width="5.6" stroke-linejoin="round"/>
<path d="M1139.31,550.99L1156.51,521.19L1122.11,521.19Z" fill="#fff" stroke="#0000ff" stroke-width="5.6" stroke-linejoin="round"/>
<path d="M1318.18,564.16L1335.38,534.37L1300.98,534.37Z" fill="#fff" stroke="#0000ff" stroke-width="5.6" stroke-linejoin="round"/>
<path d="M1497.04,587.11L1514.24,557.32L1479.84,557.32Z" fill="#fff" stroke="#0000ff" stroke-width="5.6" stroke-linejoin="round"/>
<path d="M1675.91,617.29L1693.11,587.49L1658.71,587.49Z" fill="#fff" stroke="#0000ff" stroke-width="5.6" stroke-linejoin="round"/>
<path d="M1854.77,641.94L1871.97,612.14L1837.57,612.14Z" fill="#fff" stroke="#0000ff" stroke-width="5.6" stroke-linejoin="round"/>
<path d="M2033.64,655.54L2050.84,625.74L2016.44,625.74Z" fill="#fff" stroke="#0000ff" stroke-width="5.6" stroke-linejoin="round"/>
<path d="M2212.5,658.09L2229.7,628.29L2195.3,628.29Z" fill="#fff" stroke="#0000ff" stroke-width="5.6" stroke-linejoin="round"/>
<path d="M982.95,641.2L1116.81,641.2M1161.73,643.12L1295.76,654.58M1340.43,659.83L1474.79,679.94M1519.2,687.17L1653.75,710.83M1698.21,717.69L1832.47,735.56M1877.21,740.18L2011.2,750.05M2056.13,752.07L2190,754.3" fill="none" stroke="#ff00ff" stroke-width="10" stroke-linecap="round"/>
<path d="M940.59,641.2L970.38,658.4L970.38,624Z" fill="#fff" stroke="#ff00ff" stroke-width="5.6" stroke-linejoin="round"/>
<path d="M1119.45,641.2L1149.24,658.4L1149.24,624Z" fill="#fff" stroke="#ff00ff" stroke-width="5.6" stroke-linejoin="round"/>
<path d="M1298.32,656.5L1328.11,673.7L1328.11,639.3Z" fill="#fff" stroke="#ff00ff" stroke-width="5.6" stroke-linejoin="round"/>
<path d="M1477.18,683.27L1506.97,700.47L1506.97,666.07Z" fill="#fff" stroke="#ff00ff" stroke-width="5.6" stroke-linejoin="round"/>
<path d="M1656.05,714.73L1685.84,731.93L1685.84,697.53Z" fill="#fff" stroke="#ff00ff" stroke-width="5.6" stroke-linejoin="round"/>
<path d="M1834.91,738.53L1864.7,755.73L1864.7,721.33Z" fill="#fff" stroke="#ff00ff" stroke-width="5.6" stroke-linejoin="round"/>
<path d="M2013.77,751.7L2043.57,768.9L2043.57,734.5Z" fill="#fff" stroke="#ff00ff" stroke-width="5.6" stroke-linejoin="round"/>
<path d="M2192.64,754.68L2222.43,771.88L2222.43,737.48Z" fill="#fff" stroke="#ff00ff" stroke-width="5.6" stroke-linejoin="round"/>
<path d="M982.95,740.23L1116.81,740.23M1161.74,742.09L1295.76,753.24M1340.37,758.84L1474.86,781.53M1519.12,789.63L1653.83,816.2M1698.22,823.47L1832.46,841.01M1877.21,845.58L2011.2,855.45M2056.14,857.26L2190,858.21" fill="none" stroke="#808000" stroke-width="10" stroke-linecap="round"/>
<path d="M980.31,740.23L950.52,757.43L950.52,723.02Z" fill="#fff" stroke="#808000" stroke-width="5.6" stroke-linejoin="round"/>
<path d="M1159.18,740.23L1129.38,757.43L1129.38,723.02Z" fill="#fff" stroke="#808000" stroke-width="5.6" stroke-linejoin="round"/>
<path d="M1338.04,755.1L1308.25,772.3L1308.25,737.9Z" fill="#fff" stroke="#808000" stroke-width="5.6" stroke-linejoin="round"/>
<path d="M1516.9,785.27L1487.11,802.48L1487.11,768.07Z" fill="#fff" stroke="#808000" stroke-width="5.6" stroke-linejoin="round"/>
<path d="M1695.77,820.55L1665.98,837.75L1665.98,803.35Z" fill="#fff" stroke="#808000" stroke-width="5.6" stroke-linejoin="round"/>
<path d="M1874.63,843.92L1844.84,861.12L1844.84,826.72Z" fill="#fff" stroke="#808000" stroke-width="5.6" stroke-linejoin="round"/>
<path d="M2053.5,857.1L2023.71,874.3L2023.71,839.9Z" fill="#fff" stroke="#808000" stroke-width="5.6" stroke-linejoin="round"/>
<path d="M2232.36,858.38L2202.57,875.58L2202.57,841.17Z" fill="#fff" stroke="#808000" stroke-width="5.6" stroke-linejoin="round"/>
<path d="M982.95,826.5L1116.81,826.5M1161.69,828.89L1295.81,843.23M1340.36,849.42L1474.87,872.43M1519.15,880.43L1653.8,906.02M1698.19,913.35L1832.49,932.18M1877.2,937.11L2011.21,947.94M2056.14,949.91L2190,950.86" fill="none" stroke="#ff8000" stroke-width="10" stroke-linecap="round"/>
<path d="M960.45,810.3L974.48,818.4L974.48,834.6L960.45,842.7L946.42,834.6L946.42,818.4Z" fill="#fff" stroke="#ff8000" stroke-width="5.6" stroke-linejoin="round"/>
<path d="M1139.31,810.3L1153.34,818.4L1153.34,834.6L1139.31,842.7L1125.28,834.6L1125.28,818.4Z" fill="#fff" stroke="#ff8000" stroke-width="5.6" stroke-linejoin="round"/>
<path d="M1318.18,829.43L1332.21,837.53L1332.21,853.73L1318.18,861.83L1304.15,853.73L1304.15,837.53Z" fill="#fff" stroke="#ff8000" stroke-width="5.6" stroke-linejoin="round"/>
<path d="M1497.04,860.03L1511.07,868.13L1511.07,884.33L1497.04,892.43L1483.01,884.33L1483.01,868.13Z" fill="#fff" stroke="#ff8000" stroke-width="5.6" stroke-linejoin="round"/>
<path d="M1675.91,894.02L1689.94,902.12L1689.94,918.32L1675.91,926.42L1661.88,918.32L1661.88,902.12Z" fill="#fff" stroke="#ff8000" stroke-width="5.6" stroke-linejoin="round"/>
<path d="M1854.77,919.1L1868.8,927.2L1868.8,943.4L1854.77,951.5L1840.74,943.4L1840.74,927.2Z" fill="#fff" stroke="#ff8000" stroke-width="5.6" stroke-linejoin="round"/>
<path d="M2033.64,933.55L2047.67,941.65L2047.67,957.85L2033.64,965.95L2019.61,957.85L2019.61,941.65Z" fill="#fff" stroke="#ff8000" stroke-width="5.6" stroke-linejoin="round"/>
<path d="M2212.5,934.83L2226.53,942.93L2226.53,959.13L2212.5,967.23L2198.47,959.13L2198.47,942.93Z" fill="#fff" stroke="#ff8000" stroke-width="5.6" stroke-linejoin="round"/>
<path d="M982.95,911.5L1116.81,911.5M1161.64,914.31L1295.85,931.21M1340.36,937.82L1474.87,960.83M1519.03,969.38L1653.92,998.54M1698.2,1006.32L1832.47,1024.51M1877.21,1029.18L2011.2,1039.05M2056.14,1040.81L2190,1041.44" fill="none" stroke="#8000ff" stroke-width="10" stroke-linecap="round"/>
<path d="M960.45,895.5L964.33,906.16L975.67,906.56L966.73,913.54L969.85,924.44L960.45,918.1L951.05,924.44L954.17,913.54L945.23,906.56L956.57,906.16Z" fill="#fff" stroke="#8000ff" stroke-width="7.6" stroke-linejoin="round"/>
<path d="M1139.31,895.5L1143.19,906.16L1154.53,906.56L1145.59,913.54L1148.72,924.44L1139.31,918.1L1129.91,924.44L1133.04,913.54L1124.1,906.56L1135.43,906.16Z" fill="#fff" stroke="#8000ff" stroke-width="7.6" stroke-linejoin="round"/>
<path d="M1318.18,918.03L1322.06,928.69L1333.4,929.08L1324.46,936.06L1327.58,946.97L1318.18,940.63L1308.77,946.97L1311.9,936.06L1302.96,929.08L1314.3,928.69Z" fill="#fff" stroke="#8000ff" stroke-width="7.6" stroke-linejoin="round"/>
<path d="M1497.04,948.62L1500.92,959.29L1512.26,959.68L1503.32,966.66L1506.45,977.57L1497.04,971.23L1487.64,977.57L1490.77,966.66L1481.83,959.68L1493.16,959.29Z" fill="#fff" stroke="#8000ff" stroke-width="7.6" stroke-linejoin="round"/>
<path d="M1675.91,987.3L1679.79,997.96L1691.12,998.36L1682.18,1005.34L1685.31,1016.24L1675.91,1009.9L1666.5,1016.24L1669.63,1005.34L1660.69,998.36L1672.03,997.96Z" fill="#fff" stroke="#8000ff" stroke-width="7.6" stroke-linejoin="round"/>
<path d="M1854.77,1011.53L1858.65,1022.19L1869.99,1022.58L1861.05,1029.56L1864.18,1040.47L1854.77,1034.12L1845.37,1040.47L1848.49,1029.56L1839.55,1022.58L1850.89,1022.19Z" fill="#fff" stroke="#8000ff" stroke-width="7.6" stroke-linejoin="round"/>
<path d="M2033.64,1024.7L2037.52,1035.36L2048.85,1035.76L2039.91,1042.74L2043.04,1053.64L2033.64,1047.3L2024.23,1053.64L2027.36,1042.74L2018.42,1035.76L2029.76,1035.36Z" fill="#fff" stroke="#8000ff" stroke-width="7.6" stroke-linejoin="round"/>
<path d="M2212.5,1025.55L2216.38,1036.21L2227.72,1036.61L2218.78,1043.59L2221.9,1054.49L2212.5,1048.15L2203.1,1054.49L2206.22,1043.59L2197.28,1036.61L2208.62,1036.21Z" fill="#fff" stroke="#8000ff" stroke-width="7.6" stroke-linejoin="round"/>
<path d="M982.95,986.72L1116.81,986.72M1161.58,989.95L1295.91,1009.42M1340.28,1016.85L1474.94,1042.45M1518.97,1051.7L1653.98,1082.82M1698.22,1090.74L1832.45,1107.96M1877.21,1112.53L2011.2,1122.72M2056.14,1124.37L2190,1124.05" fill="none" stroke="#ff0080" stroke-width="10" stroke-linecap="round"/>
<path d="M960.45,969.92L976.43,981.53L970.32,1000.32L950.58,1000.32L944.47,981.53Z" fill="#fff" stroke="#ff0080" stroke-width="5.6" stroke-linejoin="round"/>
<path d="M1139.31,969.92L1155.29,981.53L1149.19,1000.32L1129.44,1000.32L1123.34,981.53Z" fill="#fff" stroke="#ff0080" stroke-width="5.6" stroke-linejoin="round"/>
<path d="M1318.18,995.85L1334.16,1007.46L1328.05,1026.24L1308.3,1026.24L1302.2,1007.46Z" fill="#fff" stroke="#ff0080" stroke-width="5.6" stroke-linejoin="round"/>
<path d="M1497.04,1029.85L1513.02,1041.46L1506.92,1060.24L1487.17,1060.24L1481.07,1041.46Z" fill="#fff" stroke="#ff0080" stroke-width="5.6" stroke-linejoin="round"/>
<path d="M1675.91,1071.08L1691.88,1082.68L1685.78,1101.47L1666.03,1101.47L1659.93,1082.68Z" fill="#fff" stroke="#ff0080" stroke-width="5.6" stroke-linejoin="round"/>
<path d="M1854.77,1094.02L1870.75,1105.63L1864.65,1124.42L1844.9,1124.42L1838.79,1105.63Z" fill="#fff" stroke="#ff0080" stroke-width="5.6" stroke-linejoin="round"/>
<path d="M2033.64,1107.63L2049.61,1119.23L2043.51,1138.02L2023.76,1138.02L2017.66,1119.23Z" fill="#fff" stroke="#ff0080" stroke-width="5.6" stroke-linejoin="round"/>
<path d="M2212.5,1107.2L2228.48,1118.81L2222.37,1137.59L2202.63,1137.59L2196.52,1118.81Z" fill="#fff" stroke="#ff0080" stroke-width="5.6" stroke-linejoin="round"/>
<path d="M945.15,428.9h30.6v30.6h-30.6zM963.04,451.2h30.6v30.6h-30.6zM980.92,472.9h30.6v30.6h-30.6zM998.81,495.8h30.6v30.6h-30.6zM1016.7,517.5h30.6v30.6h-30.6zM1034.58,539h30.6v30.6h-30.6zM1052.47,555.3h30.6v30.6h-30.6zM1070.36,573.1h30.6v30.6h-30.6zM1088.24,591h30.6v30.6h-30.6zM1106.13,607.3h30.6v30.6h-30.6zM1124.01,624.3h30.6v30.6h-30.6zM1141.9,636.1h30.6v30.6h-30.6zM1159.79,647.9h30.6v30.6h-30.6zM1177.67,660.2h30.6v30.6h-30.6zM1195.56,672.8h30.6v30.6h-30.6zM1213.45,686h30.6v30.6h-30.6zM1231.33,697.8h30.6v30.6h-30.6zM1249.22,710.4h30.6v30.6h-30.6zM1267.11,723.2h30.6v30.6h-30.6zM1284.99,734.5h30.6v30.6h-30.6zM1302.88,747.6h30.6v30.6h-30.6zM1320.77,756.8h30.6v30.6h-30.6zM1338.65,767.3h30.6v30.6h-30.6zM1356.54,777.8h30.6v30.6h-30.6zM1374.42,784.6h30.6v30.6h-30.6zM1392.31,793.3h30.6v30.6h-30.6zM1410.2,802.3h30.6v30.6h-30.6zM1428.08,812.3h30.6v30.6h-30.6zM1445.97,821.95h30.6v30.6h-30.6zM1463.86,831.6h30.6v30.6h-30.6zM1481.74,841.2h30.6v30.6h-30.6zM1499.63,847.5h30.6v30.6h-30.6zM1517.52,854.3h30.6v30.6h-30.6zM1535.4,861h30.6v30.6h-30.6zM1553.29,868.1h30.6v30.6h-30.6zM1571.17,875.05h30.6v30.6h-30.6zM1589.06,881.6h30.6v30.6h-30.6zM1606.95,888.5h30.6v30.6h-30.6zM1624.83,895.6h30.6v30.6h-30.6zM1642.72,902.4h30.6v30.6h-30.6zM1660.61,908.7h30.6v30.6h-30.6zM1678.49,913.68h30.6v30.6h-30.6zM1696.38,918.05h30.6v30.6h-30.6zM1714.27,922.23h30.6v30.6h-30.6zM1732.15,926.6h30.6v30.6h-30.6zM1750.04,931.31h30.6v30.6h-30.6zM1767.93,936.13h30.6v30.6h-30.6zM1785.81,940.94h30.6v30.6h-30.6zM1803.7,945.6h30.6v30.6h-30.6zM1821.59,950.35h30.6v30.6h-30.6zM1839.47,954.4h30.6v30.6h-30.6zM1857.36,957.28h30.6v30.6h-30.6zM1875.24,959.7h30.6v30.6h-30.6zM1893.13,961.83h30.6v30.6h-30.6zM1911.02,963.84h30.6v30.6h-30.6zM1928.9,965.9h30.6v30.6h-30.6zM1946.79,968.08h30.6v30.6h-30.6zM1964.68,970.27h30.6v30.6h-30.6zM1982.56,972.37h30.6v30.6h-30.6zM2000.45,974.28h30.6v30.6h-30.6zM2018.34,975.9h30.6v30.6h-30.6zM2036.22,977.26h30.6v30.6h-30.6zM2054.11,978.49h30.6v30.6h-30.6zM2071.99,979.6h30.6v30.6h-30.6zM2089.88,980.6h30.6v30.6h-30.6zM2107.77,981.5h30.6v30.6h-30.6zM2125.65,982.34h30.6v30.6h-30.6zM2143.54,983.12h30.6v30.6h-30.6zM2161.43,983.83h30.6v30.6h-30.6zM2179.31,984.46h30.6v30.6h-30.6zM2197.2,985h30.6v30.6h-30.6z" fill="#000"/>
</g>
<path d="M1030.3,1125.3H1243.8" fill="none" stroke="#000" stroke-width="10" stroke-linecap="round"/>
<rect x="1122.7" y="1110" width="30.6" height="30.6" fill="#000"/>
<path d="M1030.3,1243.4H1243.8" fill="none" stroke="#000" stroke-width="10" stroke-linecap="round"/>
<path d="M1125.4,1230.8L1150.6,1230.8L1150.6,1256L1125.4,1256Z" fill="#fff" stroke="#000" stroke-width="5.6" stroke-linejoin="round"/>
<path d="M1591.5,101V1165" fill="none" stroke="#000" stroke-width="13.4" stroke-linecap="butt"/>
<path d="M1576.5,1158.5L1606.5,1158.5L1592.5,1209L1590.5,1209Z" fill="#000" stroke="#000" stroke-width="5" stroke-linejoin="round"/>
<g font-family="'Liberation Sans',Arial,Helvetica,sans-serif" font-weight="700" fill="#000" stroke="#000" stroke-width="3.2" stroke-linejoin="miter" style="white-space:pre;font-kerning:none">
<g transform="translate(202.56,1361.3) scale(1,1.04)" font-size="94">
<text x="0">95</text>
</g>
<g transform="translate(151.52,1148.8) scale(1,1.04)" font-size="94">
<g transform="translate(2.54,0)" clip-path="url(#c1_94)"><text>1</text></g>
<text x="52.28">00</text>
</g>
<g transform="translate(150.28,936.3) scale(1,1.04)" font-size="94">
<g transform="translate(2.54,0)" clip-path="url(#c1_94)"><text>1</text></g>
<text x="52.28">05</text>
</g>
<g transform="translate(151.52,723.8) scale(1,1.04)" font-size="94">
<g transform="translate(2.54,0)" clip-path="url(#c1_94)"><text>1</text></g>
<g transform="translate(54.82,0)" clip-path="url(#c1_94)"><text>1</text></g>
<text x="104.56">0</text>
</g>
<g transform="translate(150.28,511.3) scale(1,1.04)" font-size="94">
<g transform="translate(2.54,0)" clip-path="url(#c1_94)"><text>1</text></g>
<g transform="translate(54.82,0)" clip-path="url(#c1_94)"><text>1</text></g>
<text x="104.56">5</text>
</g>
<g transform="translate(151.52,298.8) scale(1,1.04)" font-size="94">
<g transform="translate(2.54,0)" clip-path="url(#c1_94)"><text>1</text></g>
<text x="52.28">20</text>
</g>
<g transform="translate(150.28,86.3) scale(1,1.04)" font-size="94">
<g transform="translate(2.54,0)" clip-path="url(#c1_94)"><text>1</text></g>
<text x="52.28">25</text>
</g>
<g transform="translate(319.73,1447.7) scale(1,1.04)" font-size="94">
<text x="0">0</text>
</g>
<g transform="translate(502.74,1447.7) scale(1,1.04)" font-size="94">
<text x="0">40</text>
</g>
<g transform="translate(709.96,1447.7) scale(1,1.04)" font-size="94">
<text x="0">80</text>
</g>
<g transform="translate(882.5,1466.4) scale(1,1.04)" font-size="94">
<g transform="translate(2.54,0)" clip-path="url(#c1_94)"><text>1</text></g>
<text x="52.28">0</text>
</g>
<g transform="translate(987.4,1414.4) scale(1,1.04)" font-size="56">
<text x="0">-7</text>
</g>
<g transform="translate(1061.36,1466.4) scale(1,1.04)" font-size="94">
<g transform="translate(2.54,0)" clip-path="url(#c1_94)"><text>1</text></g>
<text x="52.28">0</text>
</g>
<g transform="translate(1166.26,1414.4) scale(1,1.04)" font-size="56">
<text x="0">-6</text>
</g>
<g transform="translate(1240.23,1466.4) scale(1,1.04)" font-size="94">
<g transform="translate(2.54,0)" clip-path="url(#c1_94)"><text>1</text></g>
<text x="52.28">0</text>
</g>
<g transform="translate(1345.13,1414.4) scale(1,1.04)" font-size="56">
<text x="0">-5</text>
</g>
<g transform="translate(1419.09,1466.4) scale(1,1.04)" font-size="94">
<g transform="translate(2.54,0)" clip-path="url(#c1_94)"><text>1</text></g>
<text x="52.28">0</text>
</g>
<g transform="translate(1523.99,1414.4) scale(1,1.04)" font-size="56">
<text x="0">-4</text>
</g>
<g transform="translate(1597.96,1466.4) scale(1,1.04)" font-size="94">
<g transform="translate(2.54,0)" clip-path="url(#c1_94)"><text>1</text></g>
<text x="52.28">0</text>
</g>
<g transform="translate(1702.86,1414.4) scale(1,1.04)" font-size="56">
<text x="0">-3</text>
</g>
<g transform="translate(1776.82,1466.4) scale(1,1.04)" font-size="94">
<g transform="translate(2.54,0)" clip-path="url(#c1_94)"><text>1</text></g>
<text x="52.28">0</text>
</g>
<g transform="translate(1881.72,1414.4) scale(1,1.04)" font-size="56">
<text x="0">-2</text>
</g>
<g transform="translate(1955.69,1466.4) scale(1,1.04)" font-size="94">
<g transform="translate(2.54,0)" clip-path="url(#c1_94)"><text>1</text></g>
<text x="52.28">0</text>
</g>
<g transform="translate(2060.59,1414.4) scale(1,1.04)" font-size="56">
<text x="0">-</text>
<g transform="translate(20.16,0)" clip-path="url(#c1_56)"><text>1</text></g>
</g>
<g transform="translate(2144.5,1466.4) scale(1,1.04)" font-size="94">
<g transform="translate(2.54,0)" clip-path="url(#c1_94)"><text>1</text></g>
<text x="52.28">0</text>
</g>
<g transform="translate(2247.79,1414.4) scale(1,1.04)" font-size="56">
<text x="0">0</text>
</g>
<g transform="translate(502.71,1565.2) scale(1,1.04)" font-size="94">
<text x="0">t (ns)</text>
</g>
<g transform="translate(1518.47,1567) scale(1,1.04)" font-size="94">
<text x="0">t (s)</text>
</g>
<g transform="translate(91.3,930.7) rotate(-90) scale(1,1.04)" font-size="94">
<text x="0">I</text>
</g>
<g transform="translate(129.5,904.35) rotate(-90) scale(1,1.04)" font-size="56">
<text x="0">DS</text>
</g>
<g transform="translate(91.3,825.4) rotate(-90) scale(1,1.04)" font-size="94">
<text x="0">,</text>
</g>
<g transform="translate(91.3,771.4) rotate(-90) scale(1,1.04)" font-size="94">
<text x="0">I</text>
</g>
<g transform="translate(129.5,744.05) rotate(-90) scale(1,1.04)" font-size="56">
<text x="0">E</text>
</g>
<g transform="translate(91.3,679.9) rotate(-90) scale(1,1.04)" font-size="94">
<text x="0">(m</text>
</g>
<g transform="translate(91.3,566) rotate(-90) scale(1.07,1.04)" font-size="94">
<text x="0">A</text>
</g>
<g transform="translate(91.3,491.2) rotate(-90) scale(1,1.04)" font-size="94">
<text x="0">)</text>
</g>
<g transform="translate(1002.64,142.9) scale(1,1.04)" font-size="94">
<text x="0">T</text>
</g>
<g transform="translate(1058.39,182.1) scale(1,1.04)" font-size="56">
<text x="0">0</text>
</g>
<g transform="translate(1113.4,142.9) scale(1,1.04)" font-size="94">
<text x="0">=</text>
</g>
<g transform="translate(1193.14,142.9) scale(1,1.04)" font-size="94">
<text x="0">25</text>
</g>
<g transform="translate(1322.37,142.9) scale(1,1.04)" font-size="94">
<text x="0">°C</text>
</g>
<g transform="translate(1730.64,152.3) scale(1,1.04)" font-size="94">
<text x="0">T</text>
</g>
<g transform="translate(1785.79,191.1) scale(1,1.04)" font-size="56">
<text x="0">0</text>
</g>
<g transform="translate(1841.9,152.3) scale(1,1.04)" font-size="94">
<text x="0">=</text>
</g>
<g transform="translate(1921.54,152.3) scale(1,1.04)" font-size="94">
<text x="0">20</text>
</g>
<g transform="translate(2050.37,152.3) scale(1,1.04)" font-size="94">
<text x="0">°C</text>
</g>
<g transform="translate(1682.64,1263.2) scale(1,1.04)" font-size="94">
<text x="0">T</text>
</g>
<g transform="translate(1738.49,1301.4) scale(1,1.04)" font-size="56">
<text x="0">0</text>
</g>
<g transform="translate(1794.8,1263.2) scale(1,1.04)" font-size="94">
<text x="0">=</text>
</g>
<g transform="translate(1873.11,1263.2) scale(1,1.04)" font-size="94">
<g transform="translate(2.54,0)" clip-path="url(#c1_94)"><text>1</text></g>
<text x="52.28">85</text>
</g>
<g transform="translate(2054.97,1263.2) scale(1,1.04)" font-size="94">
<text x="0">°C</text>
</g>
<g transform="translate(1269.4,1157) scale(1,1.04)" font-size="94">
<text x="0">meas.</text>
</g>
<g transform="translate(1269.94,1274.4) scale(1,1.04)" font-size="94">
<text x="0">isoth.</text>
</g>
</g>
<defs><clipPath id="c1_94"><path d="M-18.8,-94H94V-12.69H36.34V9.4H20.44V-12.69H-18.8Z"/></clipPath><clipPath id="c1_56"><path d="M-11.2,-56H56V-8.81H22.25V5.6H11.57V-8.81H-11.2Z"/></clipPath></defs>
</svg>
</body></html>
